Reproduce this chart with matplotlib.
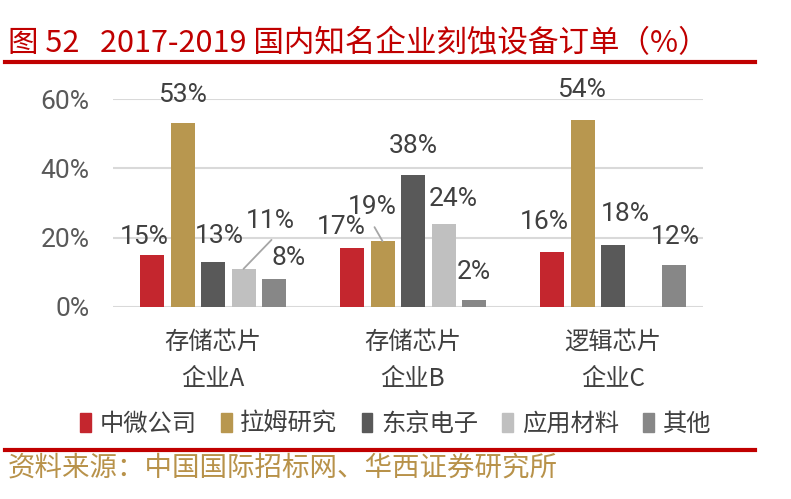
import matplotlib.pyplot as plt
from matplotlib.patches import Patch
import numpy as np

plt.rcParams['font.family'] = ['Noto Sans CJK SC', 'DejaVu Sans']
NUM_FONT = ['Liberation Sans Narrow', 'Roboto', 'DejaVu Sans']

categories = ['存储芯片\n企业A', '存储芯片\n企业B', '逻辑芯片\n企业C']
series = ['中微公司', '拉姆研究', '东京电子', '应用材料', '其他']
values = {
    '中微公司': [15, 17, 16],
    '拉姆研究': [53, 19, 54],
    '东京电子': [13, 38, 18],
    '应用材料': [11, 24, None],
    '其他': [8, 2, 12],
}
colors = ['#C4262E', '#B8974F', '#595959', '#C0C0C0', '#878787']

# label offsets in pixels (dx, dy) from bar top centre, plus leader line end offset
offsets = {
    (0, 0): (-8, 18, None), (0, 1): (0, 28, None), (0, 2): (6, 26, None),
    (0, 3): (27, 48, (28, 29)), (0, 4): (15, 21, None),
    (1, 0): (-11, 21, None), (1, 1): (-10, 34, (-8, 14)), (1, 2): (0, 29, None),
    (1, 3): (10, 25, None), (1, 4): (0, 28, None),
    (2, 0): (-8, 30, None), (2, 1): (-1, 30, None), (2, 2): (12, 31, None),
    (2, 4): (1, 28, None),
}

fig = plt.figure(figsize=(7.91, 4.99), dpi=100)
ax = fig.add_axes([113/791, 192/499, 590/791, 208/499])

x = np.arange(len(categories))
w = 0.12
step = 0.1525
for j, s in enumerate(series):
    for i, v in enumerate(values[s]):
        if v is None:
            continue
        xp = x[i] + (j - 2) * step
        ax.bar(xp, v, width=w, color=colors[j], zorder=3)
        dx, dy, lead = offsets[(i, j)]
        ax.annotate(f'{v}%', xy=(xp, v), xytext=(dx * 0.72, dy * 0.72),
                    textcoords='offset points', ha='center', va='center',
                    fontsize=19, color='#404040', family=NUM_FONT,
                    annotation_clip=False, zorder=4)
        if lead:
            ax.annotate('', xy=(xp, v), xytext=(lead[0] * 0.72, lead[1] * 0.72),
                        textcoords='offset points',
                        arrowprops=dict(arrowstyle='-', color='#A6A6A6', lw=1.3,
                                        shrinkA=0, shrinkB=0),
                        annotation_clip=False)

ax.set_xlim(-0.5, 2.45)
ax.set_ylim(0, 60)
ax.set_yticks([0, 20, 40, 60])
ax.set_yticklabels(['0%', '20%', '40%', '60%'], family=NUM_FONT)
ax.yaxis.grid(True, color='#D9D9D9', lw=1.5, zorder=0)
ax.set_xticks(x)
ax.set_xticklabels(categories, linespacing=1.55)
ax.tick_params(axis='y', length=0, labelsize=19, labelcolor='#595959', pad=17)
ax.tick_params(axis='x', length=0, labelsize=17.5, labelcolor='#404040', pad=16)
for sp in ax.spines.values():
    sp.set_visible(False)

handles = [Patch(color=c, label=s) for c, s in zip(colors, series)]
fig.legend(handles=handles, loc='center', bbox_to_anchor=(0.5, 1 - 424/499), ncol=5,
           frameon=False, fontsize=17.5, handlelength=0.45, handleheight=0.8,
           handletextpad=0.35, columnspacing=1.0, labelcolor='#404040')

fig.text(8/791, 1 - 44/499, '图 52   2017-2019 国内知名企业刻蚀设备订单（%）',
         color='#C00000', fontsize=22, va='center', ha='left', weight='medium')
fig.add_artist(plt.Line2D([5/791, 755/791], [1 - 62/499] * 2, color='#C00000', lw=3))
fig.add_artist(plt.Line2D([5/791, 755/791], [1 - 450/499] * 2, color='#C00000', lw=3))
fig.text(8/791, 1 - 468/499, '资料来源：中国国际招标网、华西证券研究所',
         color='#B8924A', fontsize=19.8, va='center', ha='left')

fig.savefig('out.png', dpi=100)
